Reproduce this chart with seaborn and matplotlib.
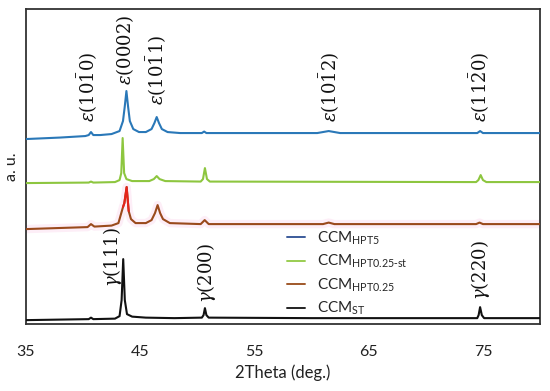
import matplotlib
matplotlib.use("Agg")
import matplotlib.pyplot as plt
from matplotlib.lines import Line2D
import seaborn as sns
import pandas as pd

# ---- data (2theta in deg, intensity in a.u. above each pattern's own start) ----
hpt5_x = [35.0, 38.0, 40.2, 40.5, 40.7, 40.9, 41.5, 42.5, 43.2, 43.5, 43.65, 43.8, 43.95, 44.1,
          44.4, 44.9, 45.5, 46.0, 46.25, 46.45, 46.65, 46.9, 47.4, 48.5, 50.4, 50.6, 50.8,
          55.0, 60.5, 61.5, 62.5, 70.0, 74.5, 74.75, 75.0, 80.0]
hpt5_y = [0, 1.5, 3, 4, 7, 4, 4, 5, 8, 18, 32, 48, 32, 18,
          10, 7, 7, 10, 16, 22, 16, 10, 7, 6, 6, 7.5, 6,
          6, 6, 8, 6, 6, 6, 8, 6, 6]

hpt025st_x = [35.0, 40.5, 40.7, 40.9, 42.8, 43.2, 43.35, 43.47, 43.6, 43.8, 44.3, 45.8, 46.2,
              46.45, 46.7, 47.2, 50.3, 50.5, 50.67, 50.85, 51.1, 74.4, 74.6, 74.8, 75.0, 75.3, 80.0]
hpt025st_y = [0, 0.5, 1.5, 0.5, 1, 3, 10, 45, 10, 4, 2, 2, 4,
              7, 4, 2, 1.5, 4, 15, 4, 1.5, 1, 3, 8, 3, 1, 1]

hpt025_x = [35.0, 40.4, 40.7, 41.0, 42.5, 43.1, 43.35, 43.5, 43.62, 43.82, 44.0, 44.2, 44.6,
            45.5, 46.0, 46.3, 46.53, 46.75, 47.0, 47.6, 50.3, 50.65, 51.0, 61.0, 61.5, 62.0,
            74.4, 74.7, 75.0, 80.0]
hpt025_y = [0, 2, 5, 2.5, 3.5, 6, 16, 22, 26, 42, 18, 10, 6,
            6, 9, 16, 24, 16, 10, 6, 5, 9, 5, 5, 6.5, 5,
            5, 6.5, 5, 5]

st_x = [35.0, 40.5, 40.7, 40.9, 42.8, 43.2, 43.38, 43.52, 43.66, 43.85, 44.3, 45.5, 48.0,
        50.4, 50.55, 50.67, 50.8, 51.0, 60.0, 74.5, 74.62, 74.75, 74.9, 75.1, 80.0]
st_y = [0, 1, 2.5, 1, 1.5, 4, 20, 61, 20, 6, 3.5, 2.5, 2,
        2.5, 5, 12, 5, 2.5, 2, 2, 5, 13, 5, 2, 2]

series_names = ["CCM$_{\\mathregular{HPT5}}$", "CCM$_{\\mathregular{HPT0.25\\text{-}st}}$",
                "CCM$_{\\mathregular{HPT0.25}}$", "CCM$_{\\mathregular{ST}}$"]
offsets = [186, 142, 96, 5]

peak_labels = [r"$\varepsilon(10\bar{1}0)$", r"$\varepsilon(0002)$", r"$\varepsilon(10\bar{1}1)$",
               r"$\varepsilon(10\bar{1}2)$", r"$\varepsilon(11\bar{2}0)$",
               r"$\gamma(111)$", r"$\gamma(200)$", r"$\gamma(220)$"]
peak_label_x = [40.4, 43.7, 46.5, 61.6, 74.75, 42.6, 50.85, 74.8]
peak_label_y = [203, 240, 220, 203, 203, 38, 22, 25]

xticks = [35, 45, 55, 65, 75]

# ---- styling ----
sns.set_theme(style="white")
plt.rcParams["font.family"] = ["Lato", "DejaVu Sans"]
plt.rcParams["mathtext.fontset"] = "dejavuserif"

line_colors = ["#2a78b8", "#8dc63f", "#9a4a1c", "#111111"]
legend_colors = ["#3b5b9b", "#9acd52", "#a0582a", "#222222"]

fig = plt.figure(figsize=(5.5, 3.91), dpi=100)
ax = fig.add_axes([0.047, 0.171, 0.935, 0.806])

xs = [hpt5_x, hpt025st_x, hpt025_x, st_x]
ys = [hpt5_y, hpt025st_y, hpt025_y, st_y]

rows = []
for name, x, y, off in zip(series_names, xs, ys, offsets):
    for a, b in zip(x, y):
        rows.append({"two_theta": a, "intensity": b + off, "sample": name})
df = pd.DataFrame(rows)

# soft pink glow behind the HPT0.25 pattern
d_red = df[df["sample"] == series_names[2]]
ax.plot(d_red["two_theta"], d_red["intensity"], color="#fdeef7", lw=6, solid_capstyle="butt", zorder=1)

for name, col in zip(series_names, line_colors):
    sns.lineplot(data=df[df["sample"] == name], x="two_theta", y="intensity",
                 color=col, lw=1.5, estimator=None, sort=True, ax=ax, zorder=3)

# red tip on HPT0.25 main peak
tip = d_red[(d_red["two_theta"] >= 43.5) & (d_red["two_theta"] <= 44.0)]
ax.plot(tip["two_theta"], tip["intensity"], color="#e5231b", lw=1.5, zorder=4)

for lab, px, py in zip(peak_labels, peak_label_x, peak_label_y):
    ax.text(px, py, lab, rotation=90, ha="center", va="bottom", fontsize=13, color="#111111")

ax.set_xlim(35, 80)
ax.set_ylim(1, 316)
ax.set_xticks(xticks)
ax.set_xticklabels([str(t) for t in xticks])
ax.set_yticks([])
ax.tick_params(axis="x", length=0, pad=15, labelsize=11.5, colors="#222222")
ax.set_xlabel("2Theta (deg.)", fontsize=12, color="#222222", labelpad=4)
ax.set_ylabel("a. u.", fontsize=11.5, color="#222222", labelpad=5)
for s in ax.spines.values():
    s.set_visible(True)
    s.set_color("#333333")
    s.set_linewidth(1.3)

handles = [Line2D([0], [0], color=c, lw=1.4) for c in legend_colors]
leg = ax.legend(handles, series_names, loc="upper left", bbox_to_anchor=(0.495, 0.32),
                frameon=False, fontsize=11, handlelength=1.2, handletextpad=0.8,
                labelspacing=0.4, borderaxespad=0)

fig.savefig("out.png", dpi=100)
